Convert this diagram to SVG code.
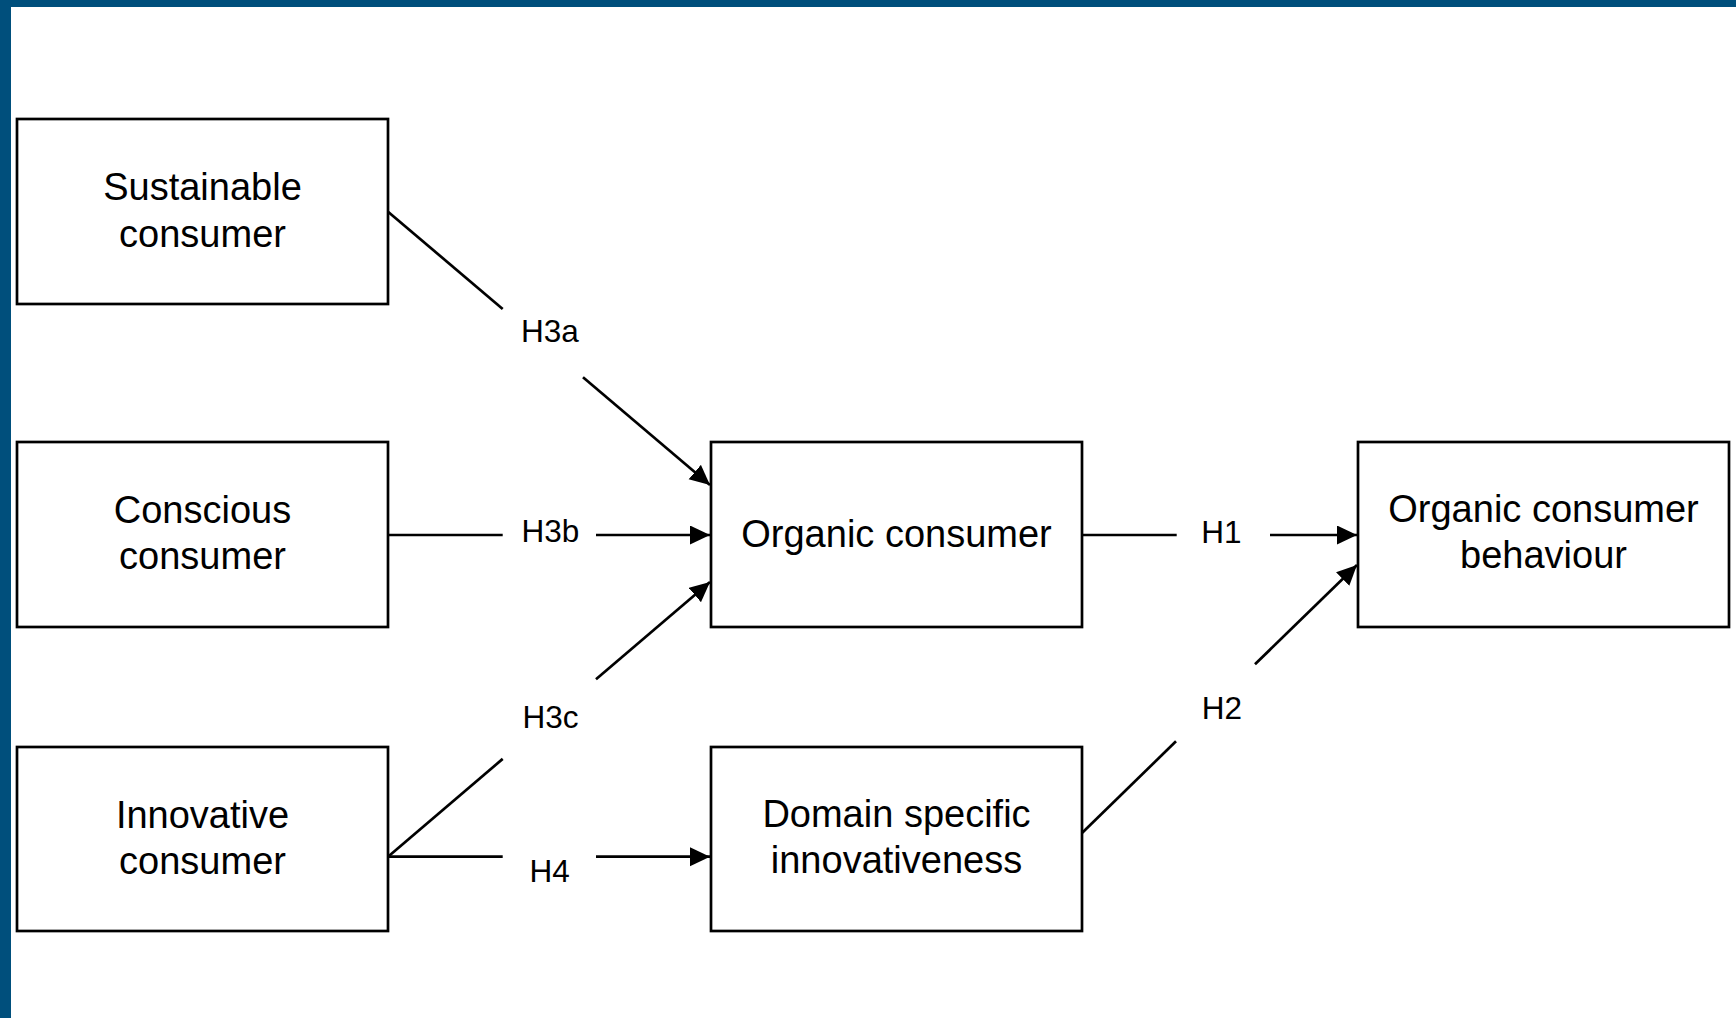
<svg xmlns="http://www.w3.org/2000/svg" width="1736" height="1018" viewBox="0 0 1736 1018">
<style>
.box{fill:#fff;stroke:#000;stroke-width:2.7}
.t{font-family:"Liberation Sans",Arial,sans-serif;font-size:38px;fill:#000;text-anchor:middle}
.lbl{font-family:"Liberation Sans",Arial,sans-serif;font-size:31.5px;fill:#000;text-anchor:middle}
.c{stroke:#000;stroke-width:2.7;fill:none}
</style>
<defs>
<marker id="ah" markerUnits="userSpaceOnUse" markerWidth="22" markerHeight="20" refX="20" refY="9.5" orient="auto">
<path d="M0,0 L20,9.5 L0,19 z" fill="#000"/>
</marker>
</defs>
<rect x="0" y="0" width="1736" height="1018" fill="#fff"/>
<rect x="0" y="0" width="1736" height="7" fill="#004f7c"/>
<rect x="0" y="0" width="11" height="1018" fill="#004f7c"/>

<g id="sustainable">
<rect class="box" x="17" y="119" width="371" height="185"/>
<text class="t" x="202.5" y="200">Sustainable</text>
<text class="t" x="202.5" y="246.5">consumer</text>
</g>
<g id="conscious">
<rect class="box" x="17" y="442" width="371" height="185"/>
<text class="t" x="202.5" y="522.5">Conscious</text>
<text class="t" x="202.5" y="568.5">consumer</text>
</g>
<g id="innovative">
<rect class="box" x="17" y="747" width="371" height="184"/>
<text class="t" x="202.5" y="827.5">Innovative</text>
<text class="t" x="202.5" y="873.5">consumer</text>
</g>
<g id="organic">
<rect class="box" x="711" y="442" width="371" height="185"/>
<text class="t" x="896.5" y="547">Organic consumer</text>
</g>
<g id="domain">
<rect class="box" x="711" y="747" width="371" height="184"/>
<text class="t" x="896.5" y="827">Domain specific</text>
<text class="t" x="896.5" y="872.5">innovativeness</text>
</g>
<g id="ocb">
<rect class="box" x="1358" y="442" width="371" height="185"/>
<text class="t" x="1543.5" y="522">Organic consumer</text>
<text class="t" x="1543.5" y="567.5">behaviour</text>
</g>

<g id="connectors">
<line class="c" x1="388" y1="211.7" x2="502.7" y2="309"/>
<line class="c" x1="583" y1="377.2" x2="710" y2="485" marker-end="url(#ah)"/>
<line class="c" x1="388" y1="535" x2="502.7" y2="535"/>
<line class="c" x1="596" y1="535" x2="710" y2="535" marker-end="url(#ah)"/>
<line class="c" x1="388" y1="856.7" x2="502.7" y2="758.9"/>
<line class="c" x1="596" y1="679.3" x2="710" y2="582" marker-end="url(#ah)"/>
<line class="c" x1="388" y1="856.7" x2="502.7" y2="856.7"/>
<line class="c" x1="596" y1="856.7" x2="710" y2="856.7" marker-end="url(#ah)"/>
<line class="c" x1="1082" y1="535" x2="1176.7" y2="535"/>
<line class="c" x1="1270" y1="535" x2="1357" y2="535" marker-end="url(#ah)"/>
<line class="c" x1="1082" y1="833" x2="1176" y2="741.3"/>
<line class="c" x1="1255" y1="664.3" x2="1357" y2="565" marker-end="url(#ah)"/>
<text class="lbl" x="550" y="342">H3a</text>
<text class="lbl" x="550.5" y="542">H3b</text>
<text class="lbl" x="550.5" y="728">H3c</text>
<text class="lbl" x="549.7" y="882">H4</text>
<text class="lbl" x="1221.5" y="543">H1</text>
<text class="lbl" x="1222" y="719">H2</text>
</g>
</svg>
